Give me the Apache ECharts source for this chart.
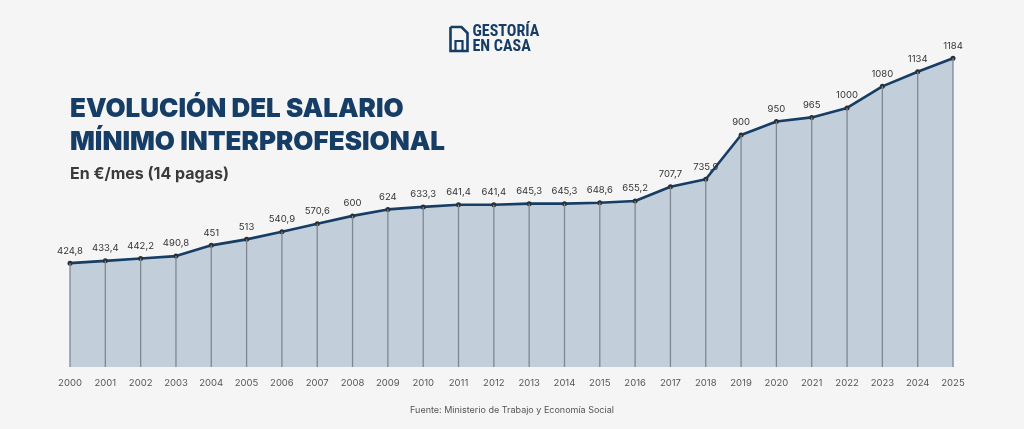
<!DOCTYPE html>
<html lang="es">
<head>
    <meta charset="UTF-8">
    <title>Evolución del Salario Mínimo Interprofesional</title>
    <script src="https://cdn.jsdelivr.net/npm/echarts@6/dist/echarts.min.js"></script>
    <style>
        html, body { margin: 0; padding: 0; background: #f5f5f5; }
        #chart { width: 1024px; height: 429px; }
    </style>
</head>
<body>
<div id="chart"></div>
<script>
    // datos del SMI (en €/mes, 14 pagas)
    var years = ['2000', '2001', '2002', '2003', '2004', '2005', '2006', '2007', '2008', '2009',
        '2010', '2011', '2012', '2013', '2014', '2015', '2016', '2017', '2018', '2019',
        '2020', '2021', '2022', '2023', '2024', '2025'];
    // altura de cada punto tal como está dibujada
    var smi = [424.8, 433.4, 442.2, 451, 490.8, 513, 540.9, 570.6, 600, 624,
        633.3, 641.4, 641.4, 645.3, 645.3, 648.6, 655.2, 707.7, 735.9, 900,
        950, 965, 1000, 1080, 1134, 1184];
    // etiquetas impresas sobre cada punto (2003 y 2004 van intercambiadas en el original)
    var pointLabels = ['424,8', '433,4', '442,2', '490,8', '451', '513', '540,9', '570,6', '600', '624',
        '633,3', '641,4', '641,4', '645,3', '645,3', '648,6', '655,2', '707,7', '735,9', '900',
        '950', '965', '1000', '1080', '1134', '1184'];

    var navy = '#163d66';
    var chart = echarts.init(document.getElementById('chart'));

    var option = {
        backgroundColor: '#f5f5f5',
        animation: false,
        textStyle: { fontFamily: 'Inter, "Noto Sans", sans-serif' },
        title: [
            {
                text: 'EVOLUCIÓN DEL SALARIO\nMÍNIMO INTERPROFESIONAL',
                left: 65, top: 88,
                textStyle: { color: navy, fontSize: 26, fontWeight: 900, lineHeight: 33 }
            },
            {
                text: 'En €/mes (14 pagas)',
                left: 65, top: 161,
                textStyle: { color: '#3a3a3a', fontSize: 16, fontWeight: 700 }
            },
            {
                text: 'Fuente: Ministerio de Trabajo y Economía Social',
                left: 'center', top: 401,
                textStyle: { color: '#555', fontSize: 9, fontWeight: 'normal' }
            }
        ],
        graphic: [
            // logo
            {
                type: 'group', left: 448, top: 24,
                children: [
                    { type: 'polyline', shape: { points: [[1, 1], [12, 1], [18, 7], [18, 25], [1, 25], [1, 1]] },
                        style: { stroke: navy, lineWidth: 2.6, fill: 'none' } },
                    { type: 'polyline', shape: { points: [[6, 25], [6, 15], [13, 15], [13, 25]] },
                        style: { stroke: navy, lineWidth: 2.2, fill: 'none' } },
                    { type: 'text', left: 23, top: -2,
                        style: { text: 'GESTORÍA\nEN CASA', fill: navy, font: 'bold 16px "Roboto Condensed", "Liberation Sans Narrow", Roboto, sans-serif', lineHeight: 15 } }
                ]
            }
        ],
        grid: { left: 70, right: 71, top: 27, bottom: 62 },
        xAxis: {
            type: 'category',
            data: years,
            boundaryGap: false,
            axisLine: { show: false },
            axisTick: { show: false },
            axisLabel: { color: '#555', fontSize: 9.5, margin: 11, interval: 0 }
        },
        yAxis: {
            type: 'value',
            min: 40, max: 1300,
            show: false
        },
        series: [
            {
                type: 'line',
                data: smi,
                symbol: 'circle',
                symbolSize: 5,
                itemStyle: { color: '#2b3035' },
                lineStyle: { color: navy, width: 2.6 },
                areaStyle: { color: '#c2ceda', opacity: 1 },
                z: 3,
                label: {
                    show: true,
                    position: 'top',
                    distance: 5,
                    color: '#333',
                    fontSize: 9.5,
                    formatter: function (p) { return pointLabels[p.dataIndex]; }
                }
            },
            {
                // líneas verticales bajo cada punto
                type: 'bar',
                data: smi,
                barWidth: 1.3,
                itemStyle: { color: '#7d8891' },
                z: 4,
                silent: true
            }
        ]
    };
    chart.setOption(option);
</script>
</body>
</html>
